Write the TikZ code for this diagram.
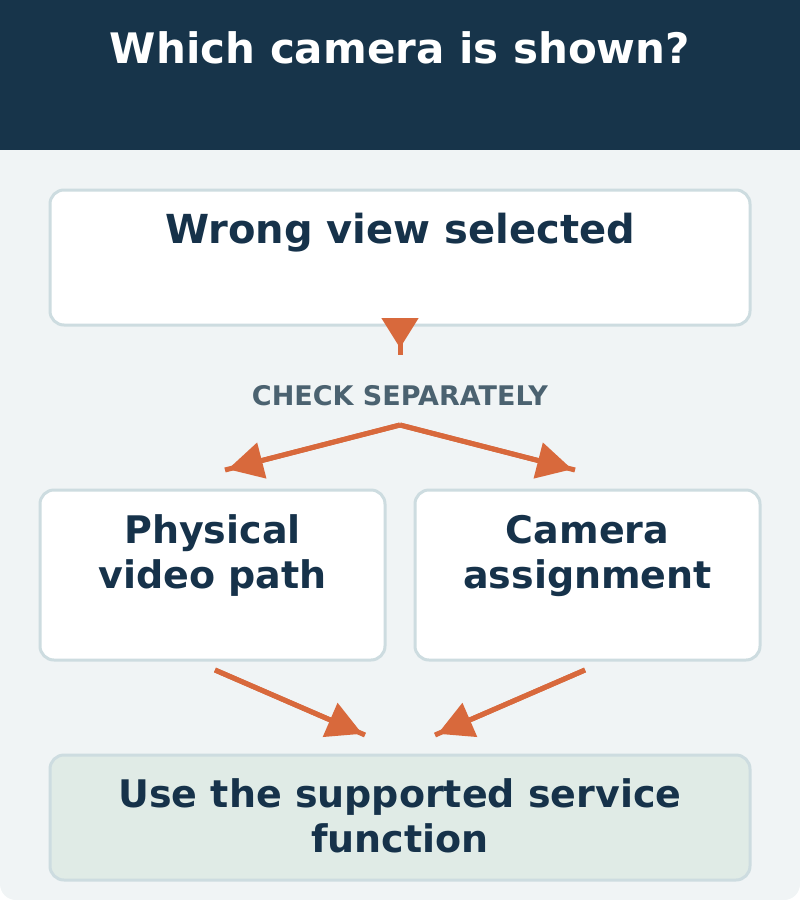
\documentclass[tikz,border=0pt]{standalone}
\usepackage{fontspec}
\setmainfont{DejaVu Sans}
\usetikzlibrary{arrows.meta}
\definecolor{hdr}{HTML}{17344A}
\definecolor{panel}{HTML}{F0F4F5}
\definecolor{bord}{HTML}{CDDCE0}
\definecolor{ink}{HTML}{16324A}
\definecolor{orng}{HTML}{D8693C}
\definecolor{lbl}{HTML}{4B6270}
\definecolor{goal}{HTML}{E0EBE6}
\tikzset{
  boxshape/.style={draw=bord, line width=3, fill=white, rounded corners=14, inner sep=0pt},
  boxtext/.style={text=ink, font=\bfseries\fontsize{38}{45}\selectfont, align=center, inner sep=0pt, anchor=base},
  conn/.style={draw=orng, line width=5},
  connarrow/.style={draw=orng, fill=orng, line width=5, -{Triangle[length=35pt,width=36pt]}, shorten >=3pt},
}
\begin{document}
\begin{tikzpicture}[x=1pt,y=-1pt]
\useasboundingbox (0,0) rectangle (800,900);
\fill[panel, rounded corners=16] (0,0) rectangle (800,900);
\fill[hdr] (0,0) rectangle (800,150);
\node[text=white, font=\bfseries\fontsize{42}{48}\selectfont, inner sep=0pt, anchor=base] (title) at (400,63) {Which camera is shown?};

\node[boxshape, minimum width=700, minimum height=135] (wrong) at (400,257.5) {};
\node[boxtext, font=\bfseries\fontsize{40}{45}\selectfont] (wrongtxt) at (400,243) {Wrong view selected};

\node[text=lbl, font=\bfseries\fontsize{27}{30}\selectfont, inner sep=0pt] (check) at (400,396) {CHECK SEPARATELY};

\node[boxshape, minimum width=345, minimum height=170] (phys) at (212.5,575) {};
\node[boxtext] (phystxt) at (212.5,588) {Physical\\video path};
\node[boxshape, minimum width=345, minimum height=170] (cam) at (587.5,575) {};
\node[boxtext] (camtxt) at (587.5,588) {Camera\\assignment};

\node[boxshape, fill=goal, minimum width=700, minimum height=125] (use) at (400,817.5) {};
\node[boxtext] (usetxt) at (400,852) {Use the supported service\\function};

\coordinate (d0) at (400,320);
\coordinate (d1) at (400,355);
\coordinate (s0) at (400,425);
\coordinate (sl) at (225,470);
\coordinate (sr) at (575,470);
\coordinate (b0l) at (215,670);
\coordinate (b1l) at (365,735);
\coordinate (b0r) at (585,670);
\coordinate (b1r) at (435,735);

\draw[conn] (d0) -- (d1);
\draw[connarrow, -{Triangle[length=30pt,width=36pt]}, shorten >=7pt] (d0) -- (d1);
\draw[conn] (s0) -- (sl);
\draw[connarrow] (s0) -- (sl);
\draw[conn] (s0) -- (sr);
\draw[connarrow] (s0) -- (sr);
\draw[conn] (b0l) -- (b1l);
\draw[connarrow] (b0l) -- (b1l);
\draw[conn] (b0r) -- (b1r);
\draw[connarrow] (b0r) -- (b1r);
\end{tikzpicture}
\end{document}
